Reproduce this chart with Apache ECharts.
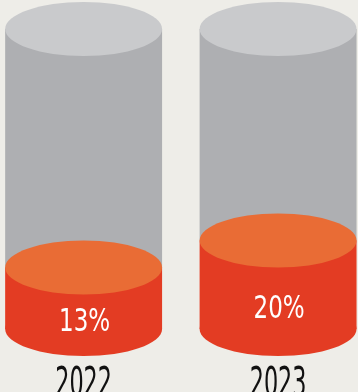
<!DOCTYPE html>
<html><head><meta charset="utf-8">
<script src="https://cdn.jsdelivr.net/npm/echarts@6/dist/echarts.min.js"></script>
<style>html,body{margin:0;padding:0;background:#eeede8;}#c{width:358px;height:392px;}</style>
</head><body><div id="c"></div>
<script>
const categories = ['2022', '2023'];
const shareValues = [13, 20];
const valueLabels = ['13%', '20%'];
const axisMin = -3;
const axisMax = 75;

const FONT = "'DejaVu Sans Condensed', 'DejaVu Sans', sans-serif";
const chart = echarts.init(document.getElementById('c'), null, {renderer: 'canvas'});

function renderItem(params, api) {
  const i = api.value(0);
  const v = api.value(1);
  const top = api.coord([i, axisMax]);
  const lvl = api.coord([i, v]);
  const bot = api.coord([i, axisMin]);
  const bw = api.size([1, 0])[0] * 0.807;
  const cx = top[0];
  const rx = bw / 2;
  const ry = 27;
  return {
    type: 'group',
    children: [
      {type: 'rect', shape: {x: cx - rx, y: top[1], width: bw, height: lvl[1] - top[1]}, style: {fill: '#aeafb2'}},
      {type: 'ellipse', shape: {cx: cx, cy: top[1], rx: rx, ry: ry}, style: {fill: '#c9cacc'}},
      {type: 'ellipse', shape: {cx: cx, cy: bot[1], rx: rx, ry: ry}, style: {fill: '#e33c23'}},
      {type: 'rect', shape: {x: cx - rx, y: lvl[1], width: bw, height: bot[1] - lvl[1]}, style: {fill: '#e33c23'}},
      {type: 'ellipse', shape: {cx: cx, cy: lvl[1], rx: rx, ry: ry}, style: {fill: '#e96c35'}},
      {type: 'text', x: cx + 1, y: (lvl[1] + bot[1]) / 2 + 24.5, scaleX: 0.8,
        style: {text: valueLabels[params.dataIndex], fill: '#ffffff', font: '32px ' + FONT, align: 'center', verticalAlign: 'middle'}},
      {type: 'text', x: cx, y: bot[1] + 37, scaleX: 0.62,
        style: {text: categories[params.dataIndex], fill: '#111111', font: '40px ' + FONT, align: 'center', verticalAlign: 'top'}}
    ]
  };
}

chart.setOption({
  backgroundColor: '#eeede8',
  animation: false,
  grid: {left: 0, right: 0, top: 29, bottom: 63},
  xAxis: {type: 'value', min: -0.43, max: 1.411, show: false},
  yAxis: {type: 'value', min: axisMin, max: axisMax, show: false},
  series: [{
    type: 'custom',
    renderItem: renderItem,
    clip: false,
    data: shareValues.map((v, i) => [i, v])
  }]
});
</script></body></html>
